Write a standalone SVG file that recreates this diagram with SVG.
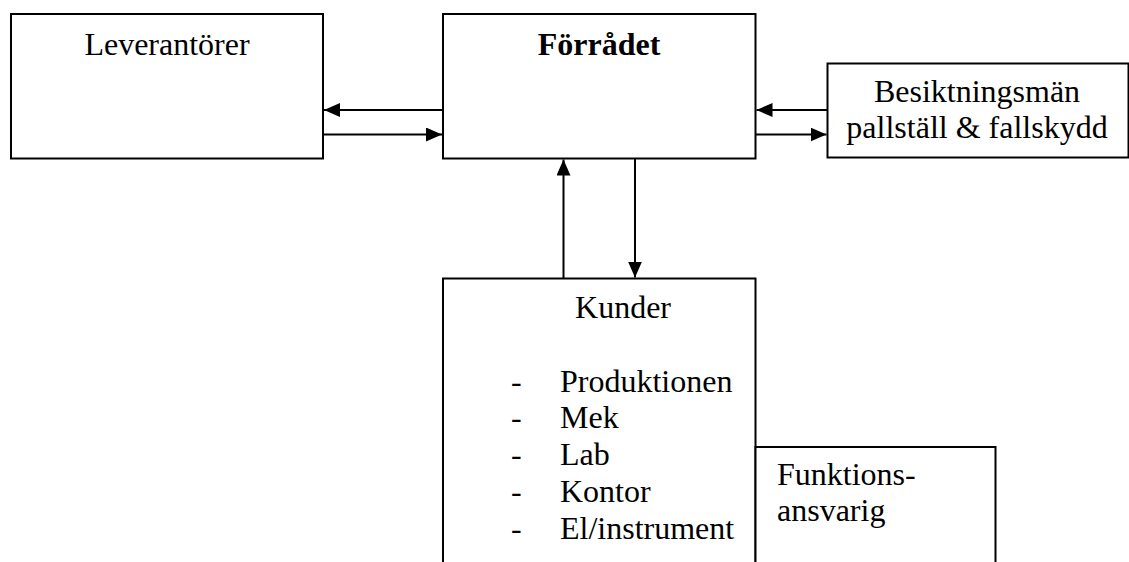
<svg xmlns="http://www.w3.org/2000/svg" width="1129" height="562" viewBox="0 0 1129 562">
<style>
.box{fill:#fff;stroke:#000;stroke-width:2}
.t{font-family:"Liberation Serif","Times New Roman",serif;font-size:32px;fill:#000}
.b{font-weight:bold}
.c{stroke:#000;stroke-width:2;fill:none;marker-end:url(#ah)}
</style>
<defs>
<marker id="ah" markerUnits="userSpaceOnUse" markerWidth="16" markerHeight="14" refX="16" refY="7" orient="auto" viewBox="0 0 16 14">
<path d="M0,0 L16,7 L0,14 z" fill="#000"/>
</marker>
</defs>
<rect width="1129" height="562" fill="#fff"/>
<g id="leverantorer">
<rect class="box" x="11" y="14" width="312" height="144.5"/>
<text class="t" x="167" y="55" text-anchor="middle">Leverantörer</text>
</g>
<g id="forradet">
<rect class="box" x="443" y="14" width="312.5" height="144.5"/>
<text class="t b" x="599" y="55" text-anchor="middle">Förrådet</text>
</g>
<g id="besiktningsman">
<rect class="box" x="827.5" y="63.5" width="301" height="94"/>
<text class="t" x="977" y="102" text-anchor="middle">Besiktningsmän</text>
<text class="t" x="977" y="138" text-anchor="middle">pallställ &amp; fallskydd</text>
</g>
<g id="kunder">
<rect class="box" x="443" y="278.5" width="312.5" height="320"/>
<text class="t" x="623" y="318" text-anchor="middle">Kunder</text>
<text class="t" x="511" y="392">-</text><text class="t" x="560" y="392">Produktionen</text>
<text class="t" x="511" y="428">-</text><text class="t" x="560" y="428">Mek</text>
<text class="t" x="511" y="465">-</text><text class="t" x="560" y="465">Lab</text>
<text class="t" x="511" y="502">-</text><text class="t" x="560" y="502">Kontor</text>
<text class="t" x="511" y="539">-</text><text class="t" x="560" y="539">El/instrument</text>
</g>
<g id="funktionsansvarig">
<rect class="box" x="755.5" y="447" width="240" height="160"/>
<text class="t" x="777" y="485">Funktions-</text>
<text class="t" x="777" y="521">ansvarig</text>
</g>
<g id="connectors">
<line class="c" x1="443" y1="110" x2="324" y2="110"/>
<line class="c" x1="323" y1="134.5" x2="442" y2="134.5"/>
<line class="c" x1="827.5" y1="110" x2="756.5" y2="110"/>
<line class="c" x1="755.5" y1="134.5" x2="826.5" y2="134.5"/>
<line class="c" x1="563.5" y1="278.5" x2="563.5" y2="159.5"/>
<line class="c" x1="635" y1="158.5" x2="635" y2="277.5"/>
</g>
</svg>
